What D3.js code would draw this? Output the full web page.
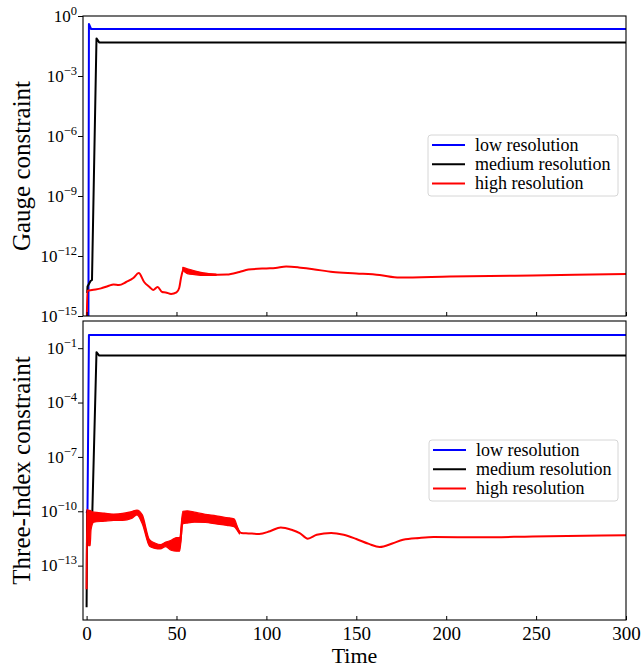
<!DOCTYPE html>
<html>
<head>
<meta charset="utf-8">
<script src="https://cdn.jsdelivr.net/npm/d3@7"></script>
<style>
  html, body { margin: 0; padding: 0; background: #fff; }
  svg { display: block; }
  text { font-family: "Liberation Serif", "Times New Roman", serif; fill: #000; }
</style>
</head>
<body>
<svg id="chart" width="644" height="667"></svg>
<script>
// ---------- data (values as log10 exponents, time on x) ----------
const seriesNames = ["low resolution", "medium resolution", "high resolution"];
const seriesColors = ["#0000ff", "#000000", "#ff0000"];
const xTicks = [0, 50, 100, 150, 200, 250, 300];
const gaugeTickExps = [0, -3, -6, -9, -12, -15];
const threeTickExps = [-1, -4, -7, -10, -13];

// Gauge constraint
const gaugeLow = [[1.0, -16], [1.3, -0.4], [2.5, -0.65], [300, -0.65]];
const gaugeMed = [[0.35, -13.85], [0.5, -13.53], [2.2, -13.25], [3.0, -13.2], [5.5, -1.12], [7.0, -1.32], [300, -1.32]];
const gaugeHigh = [[0, -16], [0.4, -13.75], [3, -13.7], [8, -13.62], [12, -13.5], [15, -13.42], [18, -13.45], [22, -13.3],
  [26, -13.1], [29, -12.85], [32, -13.3], [35, -13.55], [37, -13.7], [39.5, -13.55], [42, -13.8], [44, -13.82],
  [47, -13.9], [50, -13.82], [51.5, -13.6], [52.5, -13.1], [54, -12.65], [58, -12.82], [63, -12.9], [68, -12.95],
  [78, -12.93], [85, -12.8], [90, -12.68], [100, -12.62], [105, -12.6], [111, -12.53], [118, -12.57], [126, -12.66],
  [137, -12.8], [150, -12.87], [163, -12.95], [174, -13.08], [202, -13.03], [248, -12.97], [300, -12.9]];
const gaugeHighBand = [[53.5, -12.72, -12.57], [56, -12.88, -12.64], [60, -12.93, -12.74], [65, -12.97, -12.84], [72, -12.97, -12.9]];

// Three-Index constraint
const threeLow = [[0, -10.1], [0.5, -9.9], [1.3, -0.27], [300, -0.27]];
const threeMed = [[0, -15.3], [0.3, -10.0], [2.0, -10.0], [2.6, -10.5], [3.2, -10.0], [5.5, -1.22], [7.0, -1.41], [300, -1.41]];
const threeHigh = [[0, -14.3], [0.3, -10.0], [1.5, -10.4], [4, -10.3], [10, -10.3], [20, -10.3], [28, -9.98], [31, -10.45],
  [35, -11.75], [38, -11.95], [41, -12.0], [44, -11.75], [47, -11.95], [50, -11.85], [52, -11.8], [53.5, -10.3],
  [56, -10.3], [62, -10.32], [70, -10.45], [78, -10.55], [82, -10.62], [84.5, -11.05], [86, -11.2], [90, -11.22],
  [96, -11.25], [102, -11.1], [108, -10.89], [114, -11.02], [118.5, -11.2], [123, -11.51], [128, -11.3], [136, -11.2],
  [143, -11.3], [150, -11.53], [157, -11.8], [163, -11.97], [170, -11.78], [176, -11.57], [185, -11.47], [193, -11.42],
  [220, -11.44], [248, -11.39], [300, -11.33]];
const threeHighBand = [[0.3, -10.3, -9.9], [1.0, -11.9, -9.95], [2.0, -11.9, -9.95], [2.5, -11.0, -10.0], [4, -10.6, -10.05],
  [10, -10.55, -10.1], [15, -10.5, -10.15], [20, -10.5, -10.12], [25, -10.4, -10.02], [28, -10.2, -9.93], [31, -10.7, -10.2],
  [35, -11.93, -11.57], [38, -12.05, -11.75], [41, -12.08, -11.84], [44, -11.95, -11.7], [47, -12.15, -11.6],
  [50, -12.2, -11.45], [51.8, -12.2, -11.45], [53.5, -10.7, -10.0], [56, -10.65, -9.97], [60, -10.6, -10.05],
  [66, -10.62, -10.17], [72, -10.7, -10.25], [78, -10.78, -10.35], [82, -10.85, -10.42], [84, -11.1, -10.9], [85, -11.25, -11.15]];

// ---------- layout ----------
const FONT = "'Liberation Serif', 'Times New Roman', serif";
const svg = d3.select("#chart");
const L = 83, R = 626;
const x = d3.scaleLinear().domain([-2, 300]).range([L, R]);

const panels = [
  { id: "g", top: 16, bottom: 316, domain: [1e-15, 1], tickExps: gaugeTickExps, label: "Gauge constraint",
    series: [gaugeLow, gaugeMed, gaugeHigh], band: gaugeHighBand, xLabels: false,
    legend: { x: 428, y: 135, w: 190, h: 61 } },
  { id: "t", top: 321, bottom: 620, domain: [1e-16, Math.pow(10, 0.5)], tickExps: threeTickExps, label: "Three-Index constraint",
    series: [threeLow, threeMed, threeHigh], band: threeHighBand, xLabels: true,
    legend: { x: 429, y: 440, w: 189, h: 61 } }
];

panels.forEach(p => {
  const y = d3.scaleLog().domain(p.domain).range([p.bottom, p.top]);
  const g = svg.append("g");

  g.append("clipPath").attr("id", "clip-" + p.id)
    .append("rect").attr("x", L).attr("y", p.top).attr("width", R - L).attr("height", p.bottom - p.top);

  const plot = g.append("g").attr("clip-path", "url(#clip-" + p.id + ")");

  const line = d3.line().x(d => x(d[0])).y(d => y(Math.pow(10, d[1])));
  const smoothLine = d3.line().curve(d3.curveMonotoneX).x(d => x(d[0])).y(d => y(Math.pow(10, d[1])));
  const area = d3.area().curve(d3.curveMonotoneX).x(d => x(d[0]))
    .y0(d => y(Math.pow(10, d[1]))).y1(d => y(Math.pow(10, d[2])));

  p.series.forEach((s, i) => {
    plot.append("path").datum(s).attr("d", i === 2 ? smoothLine : line)
      .attr("fill", "none").attr("stroke", seriesColors[i]).attr("stroke-width", 2)
      .attr("stroke-linejoin", "round");
  });
  plot.append("path").datum(p.band).attr("d", area)
    .attr("fill", seriesColors[2]).attr("stroke", seriesColors[2]).attr("stroke-width", 1.2)
    .attr("stroke-linejoin", "round");

  // frame
  g.append("rect").attr("x", L).attr("y", p.top).attr("width", R - L).attr("height", p.bottom - p.top)
    .attr("fill", "none").attr("stroke", "#000").attr("stroke-width", 1.1);

  // x axis ticks (inward)
  const xAxis = d3.axisBottom(x).tickValues(xTicks).tickSizeInner(-4).tickSizeOuter(0)
    .tickPadding(7).tickFormat(p.xLabels ? d3.format("d") : () => "");
  const xa = g.append("g").attr("transform", `translate(0,${p.bottom})`).call(xAxis);
  xa.attr("font-family", null).attr("font-size", null);
  xa.select(".domain").remove();
  xa.selectAll("line").attr("stroke", "#000").attr("stroke-width", 1);
  xa.selectAll("text").style("font-family", FONT).style("font-size", "19px").attr("dy", "0.71em");

  // y axis (outward ticks)
  const yAxis = d3.axisLeft(y).tickValues(p.tickExps.map(e => Math.pow(10, e))).tickSize(5).tickPadding(3).tickFormat(() => "");
  const ya = g.append("g").attr("transform", `translate(${L},0)`).call(yAxis);
  ya.attr("font-family", null).attr("font-size", null);
  ya.select(".domain").remove();
  ya.selectAll("line").attr("stroke", "#000").attr("stroke-width", 1);
  ya.selectAll(".tick text").each(function(d) {
    const t = d3.select(this);
    const e = Math.round(Math.log10(d));
    t.text(null).attr("x", -6).attr("dy", "0.32em").attr("text-anchor", "end")
      .style("font-family", FONT);
    t.append("tspan").style("font-size", "17px").text("10");
    t.append("tspan").style("font-size", "12.5px").attr("dy", "-0.55em")
      .text(String(e).replace("-", "\u2212"));
  });

  // y label
  g.append("text")
    .attr("transform", `translate(21,${(p.top + p.bottom) / 2}) rotate(-90)`)
    .attr("text-anchor", "middle").attr("dy", "0.35em")
    .style("font-family", FONT).style("font-size", "25px").text(p.label);

  // legend
  const lg = g.append("g");
  lg.append("rect").attr("x", p.legend.x).attr("y", p.legend.y).attr("width", p.legend.w).attr("height", p.legend.h)
    .attr("rx", 3).attr("fill", "#fff").attr("fill-opacity", 0.8).attr("stroke", "#d6d6d6").attr("stroke-width", 1);
  seriesNames.forEach((n, i) => {
    const cy = p.legend.y + 10 + i * 19.3;
    lg.append("line").attr("x1", p.legend.x + 4).attr("x2", p.legend.x + 37).attr("y1", cy).attr("y2", cy)
      .attr("stroke", seriesColors[i]).attr("stroke-width", 2);
    lg.append("text").attr("x", p.legend.x + 47).attr("y", cy).attr("dy", "0.32em")
      .style("font-family", FONT).style("font-size", "18px").text(n);
  });
});

// x label
svg.append("text").attr("x", (L + R) / 2).attr("y", 663).attr("text-anchor", "middle")
  .style("font-family", FONT).style("font-size", "22px").text("Time");
</script>
</body>
</html>
